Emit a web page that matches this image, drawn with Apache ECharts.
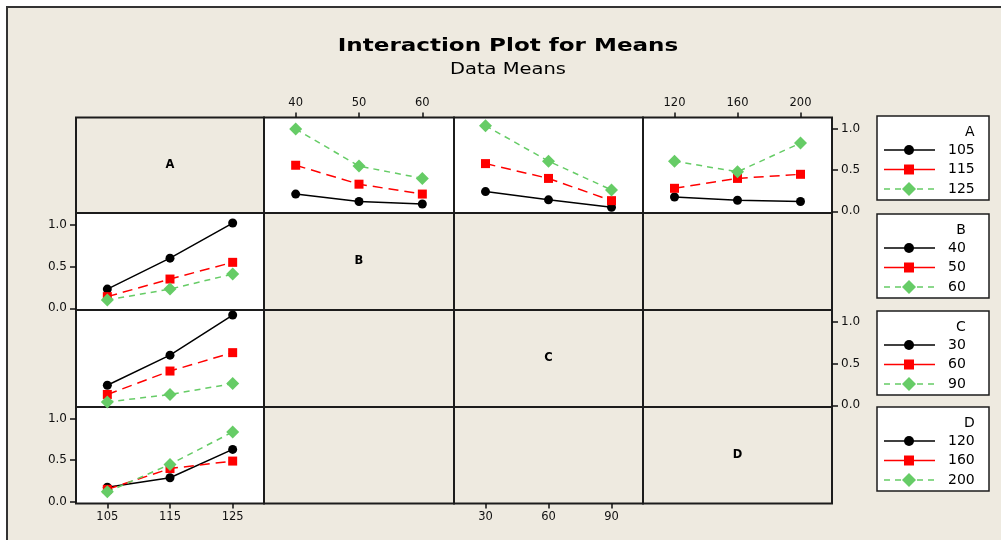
<!DOCTYPE html>
<html><head><meta charset="utf-8">
<script src="https://cdn.jsdelivr.net/npm/echarts@6/dist/echarts.min.js"></script>
<style>html,body{margin:0;padding:0;background:#fff}#c{width:1001px;height:540px}</style>
</head><body><div id="c"></div>
<script>
// ---------- DATA ----------
const factorNames = ['A', 'B', 'C', 'D'];
const levelsA = [105, 115, 125];
const levelsB = [40, 50, 60];
const levelsC = [30, 60, 90];
const levelsD = [120, 160, 200];
const yTicks = [0, 0.5, 1.0];

// Row A: lines = levels of A (105, 115, 125), x = B / C / D
const meansA_byB = [[0.21, 0.12, 0.09], [0.56, 0.33, 0.21], [1.00, 0.55, 0.40]];
const meansA_byC = [[0.24, 0.14, 0.05], [0.58, 0.40, 0.13], [1.04, 0.61, 0.26]];
const meansA_byD = [[0.175, 0.135, 0.12], [0.28, 0.40, 0.45], [0.61, 0.48, 0.83]];
// Column A: x = A, lines = levels of B / C / D
const meansB_byA = [[0.23, 0.60, 1.02], [0.14, 0.35, 0.55], [0.10, 0.23, 0.41]];
const meansC_byA = [[0.24, 0.60, 1.08], [0.13, 0.41, 0.63], [0.04, 0.13, 0.26]];
const meansD_byA = [[0.175, 0.29, 0.63], [0.15, 0.40, 0.49], [0.12, 0.45, 0.84]];

// ---------- LAYOUT / STYLE ----------
const levels = [levelsA, levelsB, levelsC, levelsD];
const colX = [76, 264, 454, 643, 832];
const rowY = [117.5, 213, 310, 407, 503.5];
const beige = '#EEEAE0';
const frame = '#1c1c1c';
const font = 'DejaVu Sans';
const styles = [
  { color: '#000000', type: 'solid', symbol: 'circle', size: 9 },
  { color: '#FF0000', type: [10, 6], symbol: 'rect', size: 9 },
  { color: '#66CC66', type: [6, 5], symbol: 'diamond', size: 13 }
];
const panels = [
  { r: 0, c: 1, vals: meansA_byB },
  { r: 0, c: 2, vals: meansA_byC },
  { r: 0, c: 3, vals: meansA_byD },
  { r: 1, c: 0, vals: meansB_byA },
  { r: 2, c: 0, vals: meansC_byA },
  { r: 3, c: 0, vals: meansD_byA }
];
const showX = { '0,1': 'top', '0,3': 'top', '3,0': 'bottom', '3,2': 'bottom' };
const showY = { '1,0': 'left', '3,0': 'left', '0,3': 'right', '2,3': 'right' };

const grid = [], xAxis = [], yAxis = [], series = [], graphic = [];
const hasData = {};
panels.forEach(p => hasData[p.r + ',' + p.c] = true);

for (let r = 0; r < 4; r++) {
  for (let c = 0; c < 4; c++) {
    const key = r + ',' + c;
    const idx = r * 4 + c;
    const lv = levels[c];
    const step = lv[1] - lv[0];
    grid.push({
      left: colX[c], top: rowY[r],
      width: colX[c + 1] - colX[c], height: rowY[r + 1] - rowY[r],
      show: true, backgroundColor: hasData[key] ? '#ffffff' : beige,
      borderColor: frame, borderWidth: 2
    });
    xAxis.push({
      gridIndex: idx, type: 'value', min: lv[0] - step / 2, max: lv[2] + step / 2,
      show: !!showX[key], position: showX[key] || 'bottom',
      axisLine: { show: false, onZero: false },
      splitLine: { show: false },
      axisTick: { show: true, customValues: lv, length: 5, lineStyle: { color: '#111', width: 1.5 } },
      axisLabel: { customValues: lv, color: '#111', fontSize: 11.5, fontFamily: font, margin: 8 }
    });
    yAxis.push({
      gridIndex: idx, type: 'value', min: -0.02, max: 1.14,
      show: !!showY[key], position: showY[key] || 'left',
      axisLine: { show: false, onZero: false },
      splitLine: { show: false },
      axisTick: { show: true, customValues: yTicks, length: 6, lineStyle: { color: '#111', width: 1.5 } },
      axisLabel: { customValues: yTicks, color: '#111', fontSize: 12, fontFamily: font, margin: 9,
        formatter: v => v.toFixed(1) }
    });
    if (r === c) {
      graphic.push({
        type: 'text', x: (colX[c] + colX[c + 1]) / 2, y: (rowY[r] + rowY[r + 1]) / 2,
        style: { text: factorNames[r], font: 'bold 11.5px "DejaVu Sans"', fill: '#000',
          textAlign: 'center', textVerticalAlign: 'middle' }
      });
    }
  }
}

panels.forEach(p => {
  const idx = p.r * 4 + p.c;
  const xs = levels[p.c];
  p.vals.forEach((vals, k) => {
    const s = styles[k];
    series.push({
      type: 'line', xAxisIndex: idx, yAxisIndex: idx,
      data: xs.map((x, i) => [x, vals[i]]),
      symbol: s.symbol, symbolSize: s.size,
      itemStyle: { color: s.color },
      lineStyle: { color: s.color, type: s.type, width: 1.5 },
      animation: false, silent: true
    });
  });
});

// page frame
graphic.push({ type: 'rect', shape: { x: 0, y: 0, width: 1001, height: 6 }, style: { fill: '#fff' } });
graphic.push({ type: 'rect', shape: { x: 0, y: 0, width: 6, height: 540 }, style: { fill: '#fff' } });
graphic.push({ type: 'polyline', shape: { points: [[7, 540], [7, 7], [1001, 7]] }, style: { stroke: '#333', lineWidth: 2, fill: null } });

// title (stretched like the original)
graphic.push({ type: 'text', x: 508, y: 46, scaleX: 1.28, style: { text: 'Interaction Plot for Means',
  font: 'bold 18px "DejaVu Sans"', fill: '#000', textAlign: 'center', textVerticalAlign: 'middle' } });
graphic.push({ type: 'text', x: 508, y: 70, scaleX: 1.3, style: { text: 'Data Means',
  font: '15px "DejaVu Sans"', fill: '#000', textAlign: 'center', textVerticalAlign: 'middle' } });

// legends
const boxTop = [116, 214, 311, 407];
levels.forEach((lv, k) => {
  const t = boxTop[k];
  const labW = String(lv[2]).length * 8.9;
  graphic.push({ type: 'rect', shape: { x: 877, y: t, width: 112, height: 84 },
    style: { fill: '#fff', stroke: frame, lineWidth: 1.5 } });
  graphic.push({ type: 'text', x: 948 + labW, y: t + 16, style: { text: factorNames[k],
    font: '14px "DejaVu Sans"', fill: '#000', textAlign: 'right', textVerticalAlign: 'middle' } });
  lv.forEach((v, j) => {
    const y = t + 34 + j * 19.5;
    const s = styles[j];
    graphic.push({ type: 'line', shape: { x1: 884, y1: y, x2: 935, y2: y },
      style: { stroke: s.color, lineWidth: 1.5, lineDash: j === 2 ? [6, 5] : null } });
    if (j === 0) graphic.push({ type: 'circle', shape: { cx: 909, cy: y, r: 5 }, style: { fill: s.color } });
    if (j === 1) graphic.push({ type: 'rect', shape: { x: 904, y: y - 5, width: 10, height: 10 }, style: { fill: s.color } });
    if (j === 2) graphic.push({ type: 'polygon', shape: { points: [[909, y - 7], [916, y], [909, y + 7], [902, y]] }, style: { fill: s.color } });
    graphic.push({ type: 'text', x: 948, y: y, style: { text: String(v),
      font: '14px "DejaVu Sans"', fill: '#000', textAlign: 'left', textVerticalAlign: 'middle' } });
  });
});

const chart = echarts.init(document.getElementById('c'), null, { renderer: 'canvas' });
chart.setOption({
  backgroundColor: beige,
  animation: false,
  grid, xAxis, yAxis, series, graphic
});
</script></body></html>
